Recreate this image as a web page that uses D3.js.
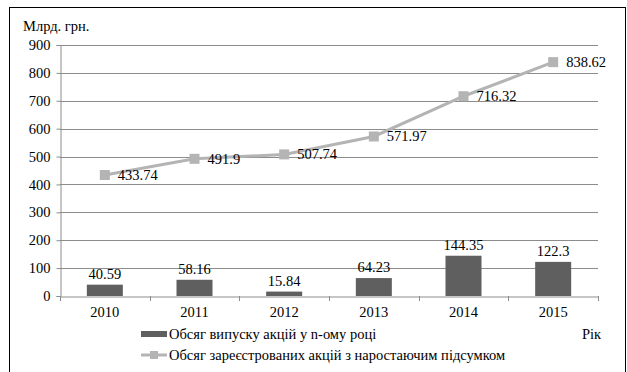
<!DOCTYPE html>
<html><head><meta charset="utf-8">
<script src="https://cdn.jsdelivr.net/npm/d3@7/dist/d3.min.js"></script>
<style>
body{margin:0;background:#fff;}
</style></head>
<body><svg id="c" width="627" height="372"></svg>
<script>
const years = ["2010","2011","2012","2013","2014","2015"];
const issued = [40.59, 58.16, 15.84, 64.23, 144.35, 122.3];
const cumulative = [433.74, 491.9, 507.74, 571.97, 716.32, 838.62];
const yTicks = [0,100,200,300,400,500,600,700,800,900];
const seriesNames = ["Обсяг випуску акцій у n-ому році","Обсяг зареєстрованих акцій з наростаючим підсумком"];

const svg = d3.select("#c");
const L=60, R=598, T=45, B=296;
const x = d3.scaleBand().domain(years).range([L,R]).paddingInner(0).paddingOuter(0);
const y = d3.scaleLinear().domain([0,900]).range([B,T]);

// frame
svg.append("rect").attr("x",9.5).attr("y",7.5).attr("width",616).attr("height",380)
  .attr("fill","none").attr("stroke","#000").attr("stroke-width",1);

// gridlines
svg.append("g").selectAll("line").data(yTicks.slice(1)).join("line")
  .attr("x1",L).attr("x2",R).attr("y1",d=>Math.round(y(d))+0.5).attr("y2",d=>Math.round(y(d))+0.5)
  .attr("stroke","#8c8c8c").attr("stroke-width",1);

// y axis
const ya = svg.append("g").attr("transform",`translate(${L+0.5},0)`)
  .call(d3.axisLeft(y).tickValues(yTicks).tickSize(4).tickPadding(6).tickFormat(d3.format("d")));
ya.select(".domain").attr("stroke","#8c8c8c");
ya.selectAll(".tick line").attr("stroke","#8c8c8c");

// x axis
const xa = svg.append("g").attr("transform",`translate(0,${B+0.5})`)
  .call(d3.axisBottom(x).tickSize(0).tickPadding(10));
xa.select(".domain").attr("stroke","#8c8c8c");
// boundary ticks
svg.append("g").selectAll("line").data(years.concat(["end"])).join("line")
  .attr("x1",(d,i)=>Math.round(L+i*x.bandwidth())+0.5).attr("x2",(d,i)=>Math.round(L+i*x.bandwidth())+0.5)
  .attr("y1",B).attr("y2",B+5).attr("stroke","#8c8c8c");

// bars
const bw = 36;
svg.append("g").selectAll("rect").data(issued).join("rect")
  .attr("x",(d,i)=>x(years[i])+x.bandwidth()/2-bw/2).attr("width",bw)
  .attr("y",d=>y(d)).attr("height",d=>B-y(d)).attr("fill","#5f5f5f");
svg.append("g").selectAll("text").data(issued).join("text")
  .attr("x",(d,i)=>x(years[i])+x.bandwidth()/2).attr("y",d=>y(d)-6)
  .attr("text-anchor","middle").text(d=>d);

// line
const cx = i=>x(years[i])+x.bandwidth()/2;
svg.append("path").datum(cumulative)
  .attr("d",d3.line().x((d,i)=>cx(i)).y(d=>y(d)))
  .attr("fill","none").attr("stroke","#b4b4b4").attr("stroke-width",3);
svg.append("g").selectAll("rect").data(cumulative).join("rect")
  .attr("x",(d,i)=>cx(i)-5).attr("y",d=>y(d)-5).attr("width",10).attr("height",10).attr("fill","#b4b4b4");
svg.append("g").selectAll("text").data(cumulative).join("text")
  .attr("x",(d,i)=>cx(i)+13).attr("y",d=>y(d)+5)
  .text(d=>d);

// titles
svg.append("text").attr("x",23).attr("y",31).text("Млрд. грн.");
svg.append("text").attr("x",582).attr("y",339).text("Рік");

// legend
svg.append("rect").attr("x",141).attr("y",331).attr("width",26).attr("height",6).attr("fill","#5f5f5f");
svg.append("text").attr("x",169).attr("y",339).text(seriesNames[0]);
svg.append("line").attr("x1",141).attr("x2",167).attr("y1",355).attr("y2",355).attr("stroke","#b4b4b4").attr("stroke-width",3);
svg.append("rect").attr("x",150).attr("y",351).attr("width",8).attr("height",8).attr("fill","#b4b4b4");
svg.append("text").attr("x",169).attr("y",360).text(seriesNames[1]);

// font for all text
svg.selectAll("g").attr("font-family",null).attr("font-size",null);
svg.selectAll("text")
  .attr("font-family","Liberation Serif").attr("font-size","14.5")
  .style("font-family","'Liberation Serif'","important")
  .style("font-size","14.5px","important")
  .attr("fill","#000");
</script></body></html>
